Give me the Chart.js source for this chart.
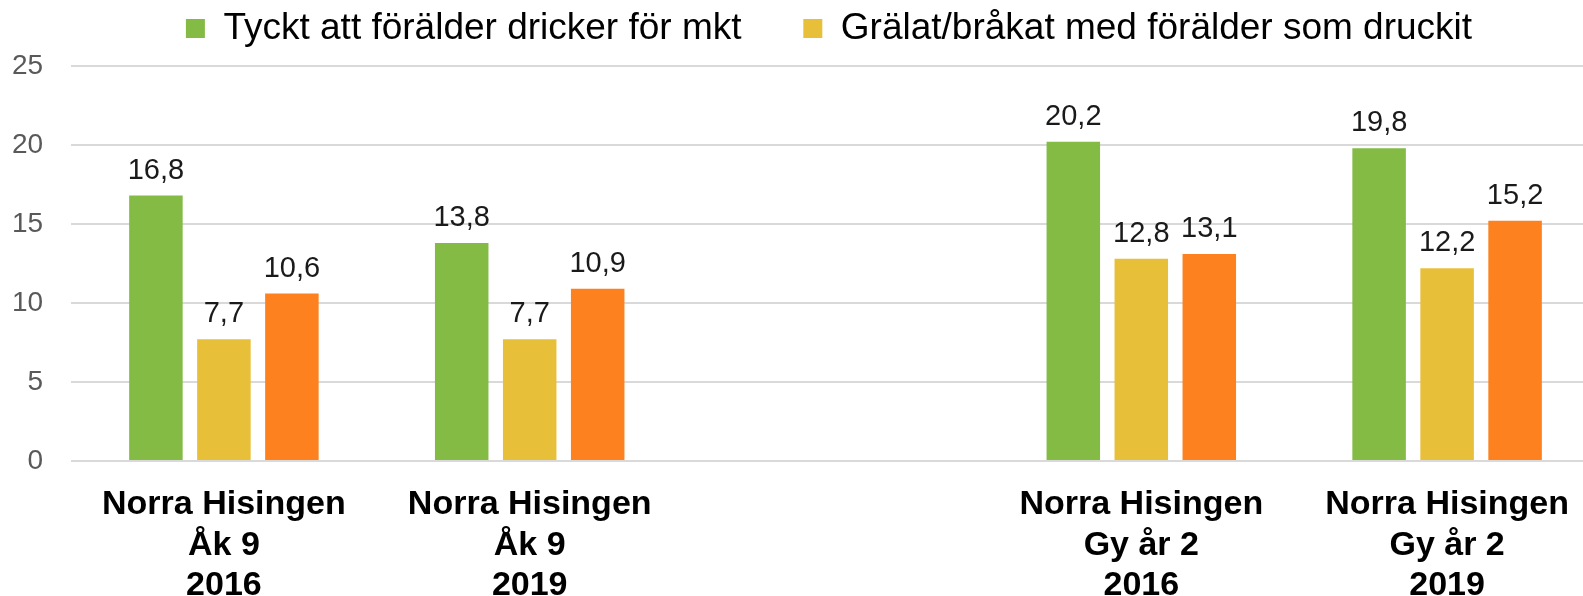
<!DOCTYPE html>
<html>
<head>
<meta charset="utf-8">
<script src="https://cdn.jsdelivr.net/npm/chart.js@4/dist/chart.umd.min.js"></script>
<style>
  html, body { margin: 0; padding: 0; background: #fff; overflow: hidden; }
</style>
</head>
<body>
<canvas id="alcChart" width="1600" height="596"></canvas>
<script>
// categories (empty slot in the middle separates Åk 9 and Gy år 2)
const categories = [
  ['Norra Hisingen', 'Åk 9', '2016'],
  ['Norra Hisingen', 'Åk 9', '2019'],
  '',
  ['Norra Hisingen', 'Gy år 2', '2016'],
  ['Norra Hisingen', 'Gy år 2', '2019']
];

const tycktDricker = [16.8, 13.8, null, 20.2, 19.8];
const gralatBrakat = [7.7, 7.7, null, 12.8, 12.2];
const tredjeSerie = [10.6, 10.9, null, 13.1, 15.2];

const yTicks = [0, 5, 10, 15, 20, 25];

const FONT = "'Liberation Sans', Arial, sans-serif";

// value labels above the bars, swedish decimal comma
const valueLabels = {
  id: 'valueLabels',
  afterDatasetsDraw(chart) {
    const ctx = chart.ctx;
    ctx.save();
    ctx.font = '29px ' + FONT;
    ctx.fillStyle = '#1a1a1a';
    ctx.textAlign = 'center';
    ctx.textBaseline = 'alphabetic';
    chart.data.datasets.forEach((ds, i) => {
      chart.getDatasetMeta(i).data.forEach((bar, j) => {
        const v = ds.data[j];
        if (v === null) return;
        ctx.fillText(v.toFixed(1).replace('.', ','), bar.x, bar.y - 17);
      });
    });
    ctx.restore();
  }
};

const data = {
  labels: categories,
  datasets: [
    { label: 'Tyckt att förälder dricker för mkt', data: tycktDricker, backgroundColor: '#83BB44' },
    { label: 'Grälat/bråkat med förälder som druckit', data: gralatBrakat, backgroundColor: '#E8BF38' },
    { label: '', data: tredjeSerie, backgroundColor: '#FD811E' }
  ]
};

// the orange series has no legend entry; keep an empty spacer between the two others
function legendItems(chart) {
  const items = Chart.defaults.plugins.legend.labels.generateLabels(chart);
  const spacer = items[2];
  spacer.text = ' ';
  spacer.fillStyle = 'rgba(0,0,0,0)';
  spacer.strokeStyle = 'rgba(0,0,0,0)';
  spacer.lineWidth = 0;
  return [items[0], spacer, items[1]];
}

const options = {
  responsive: false,
  animation: false,
  layout: { padding: { left: 58, top: 3, right: 0, bottom: 0 } },
  datasets: {
    bar: { categoryPercentage: 0.667, barPercentage: 0.787 }
  },
  scales: {
    x: {
      grid: { display: false, drawTicks: false },
      border: { display: false },
      ticks: {
        color: '#000',
        padding: 24,
        maxRotation: 0,
        autoSkip: false,
        font: { family: FONT, size: 34, weight: 'bold', lineHeight: 1.18 }
      },
      afterFit: s => { s.height = 135; }
    },
    y: {
      min: 0,
      max: 25,
      afterBuildTicks: s => { s.ticks = yTicks.map(v => ({ value: v })); },
      grid: { color: '#d9d9d9', lineWidth: 2, drawTicks: false },
      border: { display: false },
      ticks: {
        color: '#595959',
        mirror: true,
        crossAlign: 'far',
        padding: -59,
        font: { family: FONT, size: 28 }
      },
      afterFit: s => { s.width = 13; }
    }
  },
  plugins: {
    tooltip: { enabled: false },
    // empty title used as a gap between legend and plot area
    title: {
      display: true,
      text: '',
      weight: 100,
      padding: 0,
      font: { size: 9, lineHeight: 1 }
    },
    legend: {
      position: 'top',
      labels: {
        color: '#000',
        boxWidth: 19,
        boxHeight: 19,
        padding: 7,
        font: { family: FONT, size: 37 },
        generateLabels: legendItems
      }
    }
  }
};

new Chart(document.getElementById('alcChart'), {
  type: 'bar',
  data: data,
  options: options,
  plugins: [valueLabels]
});
</script>
</body>
</html>
